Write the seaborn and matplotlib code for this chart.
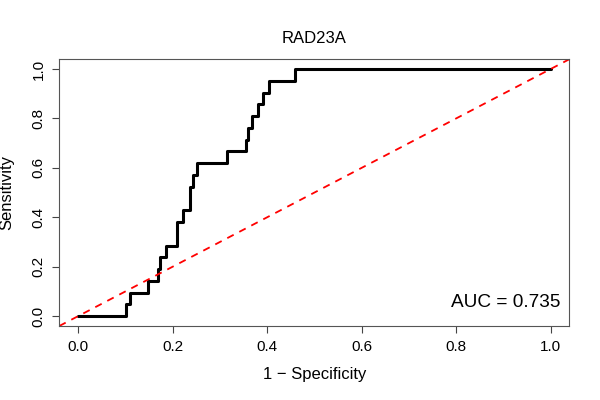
import numpy as np
import matplotlib
matplotlib.use("Agg")
import matplotlib.pyplot as plt
import seaborn as sns

# ROC points (1 - specificity, sensitivity), 21 positive cases
fpr = [0.0, 0.102, 0.109, 0.147, 0.169, 0.174, 0.187, 0.209, 0.222, 0.236, 0.243,
       0.252, 0.316, 0.356, 0.360, 0.368, 0.381, 0.392, 0.404, 0.459, 1.0]
tpr_count = [0, 1, 2, 3, 4, 5, 6, 8, 9, 11, 12, 13, 14, 15, 16, 17, 18, 19, 20, 21, 21]
n_pos = 21
tpr = [c / n_pos for c in tpr_count]
auc_label = "AUC = 0.735"
ticks = [0.0, 0.2, 0.4, 0.6, 0.8, 1.0]

sns.set_style("white")
plt.rcParams["font.family"] = ["Liberation Sans", "DejaVu Sans"]
plt.rcParams["text.color"] = "black"
plt.rcParams["axes.labelcolor"] = "black"
plt.rcParams["xtick.color"] = "black"
plt.rcParams["ytick.color"] = "black"

fig = plt.figure(figsize=(6, 4), dpi=100)
ax = fig.add_axes([0.0988, 0.185, 0.8502, 0.667])

sns.lineplot(x=fpr, y=tpr, drawstyle="steps-post", estimator=None, sort=False,
             color="black", linewidth=2.2, ax=ax)
ax.axline((0, 0), (1, 1), color="red", linestyle=(0, (4, 3.5)), linewidth=1.3)

ax.set_xlim(-0.04, 1.04)
ax.set_ylim(-0.04, 1.04)
ax.set_xticks(ticks)
ax.set_yticks(ticks)
ax.set_xticklabels([f"{t:.1f}" for t in ticks], fontsize=11)
ax.set_yticklabels([f"{t:.1f}" for t in ticks], fontsize=11, rotation=90, va="center")
ax.tick_params(axis="both", direction="out", length=5, width=0.8, color="#444",
               bottom=True, left=True, pad=5)

for s in ax.spines.values():
    s.set_visible(True)
    s.set_color("#555")
    s.set_linewidth(0.8)

ax.text(1.02, 0.054, auc_label, ha="right", va="center", fontsize=13.7)
ax.set_title("RAD23A", fontsize=12, pad=12)
ax.set_xlabel("1 \u2212 Specificity", fontsize=12)
ax.set_ylabel("Sensitivity", fontsize=12)
ax.yaxis.set_label_coords(-0.089, 0.5)
ax.xaxis.set_label_coords(0.5, -0.155)

fig.savefig("out.png", dpi=100)
